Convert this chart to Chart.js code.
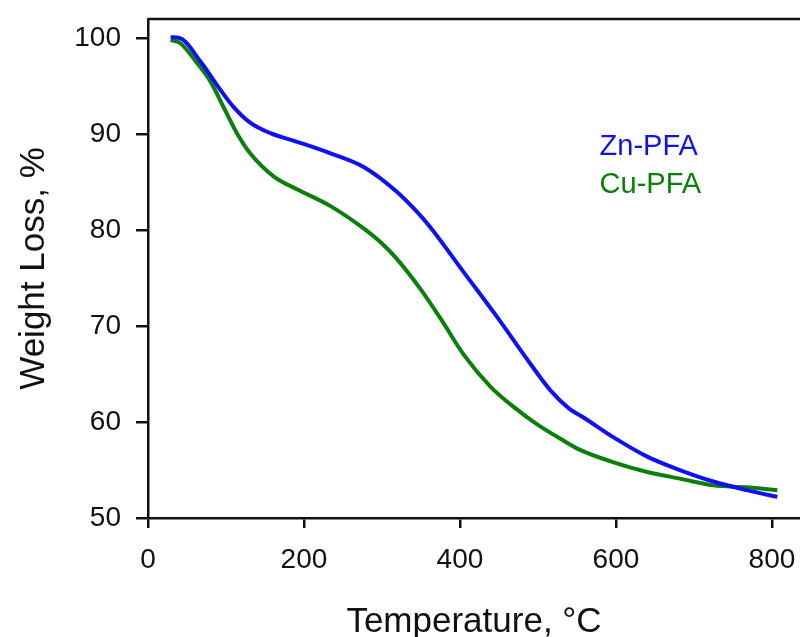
<!DOCTYPE html>
<html lang="en">
<head>
<meta charset="utf-8" />
<title>TGA Zn-PFA / Cu-PFA</title>
<script src="https://cdn.jsdelivr.net/npm/chart.js@4.4"></script>
<style>
  html,body{margin:0;padding:0;background:#fff;}
  #wrap{width:800px;height:637px;overflow:hidden;}
</style>
</head>
<body>
<div id="wrap"><canvas id="tga" width="800" height="637"></canvas></div>
<script>
/***** ---------- Data ---------- *****/
const znTemp  =[29,41,67,93,109,131,157,195,234,276,319,345,362,405,448,490,516,540,558,597,640,682,725,768,807];
const znWeight=[100.1,100.0,97.6,94.6,92.9,91.2,90.1,89.1,88.0,86.6,84.0,81.9,80.3,75.6,70.9,66.1,63.3,61.4,60.5,58.4,56.4,55.0,53.8,52.9,52.2];

const cuTemp  =[29,41,63,80,97,114,131,161,195,234,276,300,319,349,375,405,439,470,500,530,554,597,640,682,725,768,807];
const cuWeight=[99.8,99.5,97.4,95.5,92.8,90.1,88.0,85.6,84.1,82.5,80.2,78.6,77.0,73.9,70.8,67.0,63.7,61.5,59.7,58.2,57.1,55.8,54.8,54.1,53.4,53.2,52.9];

const xTicks=[0,200,400,600,800];
const yTicks=[50,60,70,80,90,100];

const BLUE='#1010f5';
const GREEN='#0a800a';
const FONT='"Liberation Sans", Arial, sans-serif';

const toXY=(xs,ys)=>xs.map((x,i)=>({x,y:ys[i]}));

/***** ---------- Plugin: top frame line + in-plot legend ---------- *****/
const frameAndLabels={
  id:'frameAndLabels',
  afterDraw(chart){
    const {ctx,chartArea:a,scales:{x,y}}=chart;
    ctx.save();
    ctx.strokeStyle='#111';
    ctx.lineWidth=2.5;
    ctx.beginPath();
    ctx.moveTo(a.left,a.top);
    ctx.lineTo(a.right,a.top);
    ctx.stroke();

    ctx.font='29px '+FONT;
    ctx.textBaseline='middle';
    ctx.textAlign='left';
    const lx=x.getPixelForValue(579);
    ctx.fillStyle=BLUE;
    ctx.fillText('Zn-PFA',lx,y.getPixelForValue(88.7));
    ctx.fillStyle=GREEN;
    ctx.fillText('Cu-PFA',lx,y.getPixelForValue(84.7));
    ctx.restore();
  }
};

new Chart(document.getElementById('tga'),{
  type:'line',
  data:{datasets:[
    {label:'Zn-PFA',data:toXY(znTemp,znWeight),borderColor:BLUE,borderWidth:4,pointRadius:0,cubicInterpolationMode:'monotone'},
    {label:'Cu-PFA',data:toXY(cuTemp,cuWeight),borderColor:GREEN,borderWidth:4,pointRadius:0,cubicInterpolationMode:'monotone'}
  ]},
  options:{
    responsive:false,
    animation:false,
    layout:{padding:{top:19,right:0,bottom:0,left:0}},
    plugins:{legend:{display:false},tooltip:{enabled:false}},
    scales:{
      x:{
        type:'linear',min:0,max:836,
        afterBuildTicks:s=>{s.ticks=xTicks.map(v=>({value:v}));},
        afterFit:s=>{s.height=119;s.paddingLeft=0;s.paddingRight=0;},
        ticks:{color:'#111',font:{family:FONT,size:28},padding:15,maxRotation:0},
        grid:{display:true,drawOnChartArea:false,drawTicks:true,tickLength:10,color:'#111',lineWidth:2.5},
        border:{display:true,color:'#111',width:2.5},
        title:{display:true,text:'Temperature, °C',color:'#111',font:{family:FONT,size:35,lineHeight:0.85},padding:{top:0,bottom:0}}
      },
      y:{
        type:'linear',min:50,max:102,
        afterBuildTicks:s=>{s.ticks=yTicks.map(v=>({value:v}));},
        afterFit:s=>{s.width=148;s.paddingTop=0;s.paddingBottom=0;},
        ticks:{color:'#111',font:{family:FONT,size:28},padding:15},
        grid:{display:true,drawOnChartArea:false,drawTicks:true,tickLength:12,color:'#111',lineWidth:2.5},
        border:{display:true,color:'#111',width:2.5},
        title:{display:true,text:'Weight Loss, %',color:'#111',font:{family:FONT,size:35,lineHeight:1},padding:{top:17,bottom:0}}
      }
    }
  },
  plugins:[frameAndLabels]
});
</script>
</body>
</html>
